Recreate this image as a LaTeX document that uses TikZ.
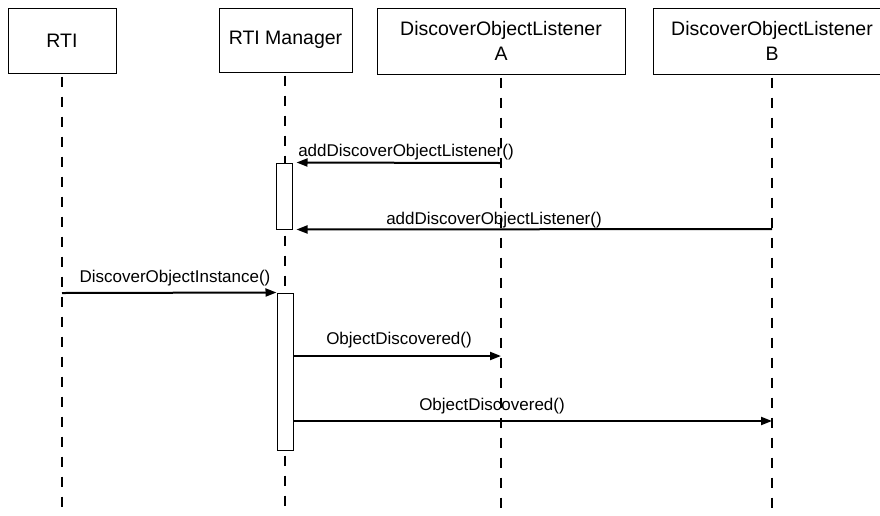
\documentclass[tikz,border=0pt]{standalone}
\usepackage{fontspec}
\setmainfont{Liberation Sans}
\usetikzlibrary{arrows.meta}

\tikzset{
  obj/.style={draw,line width=1pt,fill=white,align=center,inner sep=0pt,
    font=\fontsize{19.5}{25}\selectfont},
  act/.style={draw,line width=1pt,fill=white,minimum width=16pt,inner sep=0pt},
  life/.style={line width=2pt,dash pattern=on 10pt off 10pt},
  msg/.style={line width=2pt,-{Triangle[length=11pt,width=8pt]}},
  lbl/.style={font=\fontsize{17}{20}\selectfont,anchor=base,inner sep=0pt}
}

\begin{document}
\begin{tikzpicture}[x=1pt,y=-1pt]
\useasboundingbox[fill=white] (0,0) rectangle (880,515);

\node[obj,minimum width=108pt,minimum height=65pt] (rti) at (62,40.5) {RTI};
\node[obj,minimum width=133pt,minimum height=64pt] (mgr) at (285.5,40) {RTI Manager};
\node[obj,minimum width=248pt,minimum height=66pt] (lsa) at (501,41) {DiscoverObjectListener\\A};
\node[obj,minimum width=238pt,minimum height=66pt] (lsb) at (772,41) {DiscoverObjectListener\\B};

\coordinate (rtiend) at (62,515);
\coordinate (mgrend) at (285,515);
\coordinate (lsaend) at (501,515);
\coordinate (lsbend) at (772,515);

\draw[life] ([yshift=-3pt]rti.south) -- (rtiend);
\draw[life] ([yshift=-3pt]mgr.south -| mgrend) -- (mgrend);
\draw[life] ([yshift=-3pt]lsa.south) -- (lsaend);
\draw[life] ([yshift=-3pt]lsb.south) -- (lsbend);

\node[act,minimum height=66pt] (act1) at (284,196) {};
\node[act,minimum height=157pt] (act2) at (285,371.5) {};

\coordinate (a1) at (501,163);
\coordinate (b1) at (772,229);
\coordinate (r1) at (62,293);
\coordinate (a2) at (501,356);
\coordinate (b2) at (772,421);

\draw[msg,shorten >=4pt] (a1) -- (act1.north east);
\draw[msg,shorten >=4pt] (b1) -- (act1.south east);
\draw[msg] (r1) -- (act2.north west);
\draw[msg] (act2.east |- a2) -- (a2);
\draw[msg] (act2.east |- b2) -- (b2);

\node[lbl] (l1) at (406,156.5) {addDiscoverObjectListener()};
\node[lbl] (l2) at (494,224) {addDiscoverObjectListener()};
\node[lbl] (l3) at (175,282.7) {DiscoverObjectInstance()};
\node[lbl] (l4) at (399,344) {ObjectDiscovered()};
\node[lbl] (l5) at (492,410) {ObjectDiscovered()};
\end{tikzpicture}
\end{document}
